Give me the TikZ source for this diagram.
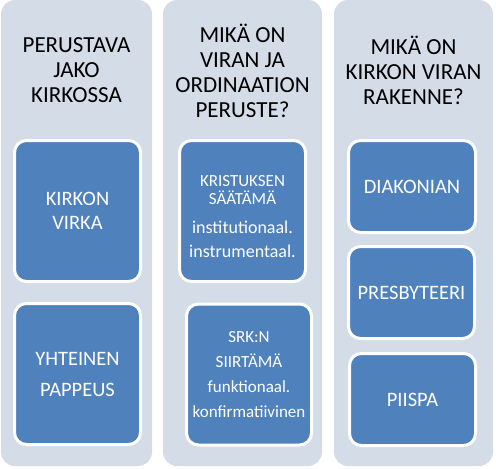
\documentclass[tikz,border=0pt]{standalone}
\usepackage{fontspec}
\setmainfont{Carlito}
\usetikzlibrary{shapes.geometric}
\definecolor{colbg}{HTML}{D4DCE8}
\definecolor{tileblue}{HTML}{4F81BD}
\tikzstyle{column} = [rectangle, rounded corners=14pt, minimum width=151pt, minimum height=466pt, fill=colbg, inner sep=0pt]
\tikzstyle{header} = [align=center, text=black, font=\fontsize{23}{25}\selectfont]
\tikzstyle{tile} = [rectangle, rounded corners=12pt, minimum width=126pt, minimum height=141pt, draw=white, line width=3pt, fill=tileblue, text=white, align=center, inner sep=0pt, font=\fontsize{20.5}{24}\selectfont]
\tikzstyle{tilesmall} = [tile, minimum height=92pt]

\begin{document}
\begin{tikzpicture}[x=1pt, y=-1pt]
\useasboundingbox (0,0) rectangle (496,469);

\node (col1) [column] at (76.5,233) {};
\node (col2) [column, minimum width=159pt] at (242.5,233) {};
\node (col3) [column, minimum width=159pt] at (413.5,233) {};

\node (head1) [header] at (76.5,70) {PERUSTAVA\\JAKO\\KIRKOSSA};
\node (head2) [header] at (242.5,70.5) {MIKÄ ON\\VIRAN JA\\ORDINAATION\\PERUSTE?};
\node (head3) [header] at (413.5,70) {MIKÄ ON\\KIRKON VIRAN\\RAKENNE?};

\node (virka) [tile] at (77.5,211) {KIRKON\\VIRKA};
\node (pappeus) [tile, font=\fontsize{20.5}{31}\selectfont] at (77.5,374) {YHTEINEN\\PAPPEUS};

\node (saatama) [tile, font=\fontsize{17}{18}\selectfont, text height=94pt] at (242.5,211) {KRISTUKSEN\\SÄÄTÄMÄ\\[11pt]\fontsize{18}{23}\selectfont institutionaal.\\[6pt]\fontsize{18}{23}\selectfont instrumentaal.};
\node (siirtama) [tile, minimum width=125pt, font=\fontsize{17}{25}\selectfont] at (249,374.5) {SRK:N\\SIIRTÄMÄ\\funktionaal.\\konfirmatiivinen};

\node (diakonia) [tilesmall, minimum width=127pt] at (412,186.5) {DIAKONIAN};
\node (presbyt) [tilesmall, minimum width=126pt] at (411.5,292.5) {PRESBYTEERI};
\node (piispa) [tilesmall, minimum width=126pt] at (412.5,399.5) {PIISPA};

\end{tikzpicture}
\end{document}
